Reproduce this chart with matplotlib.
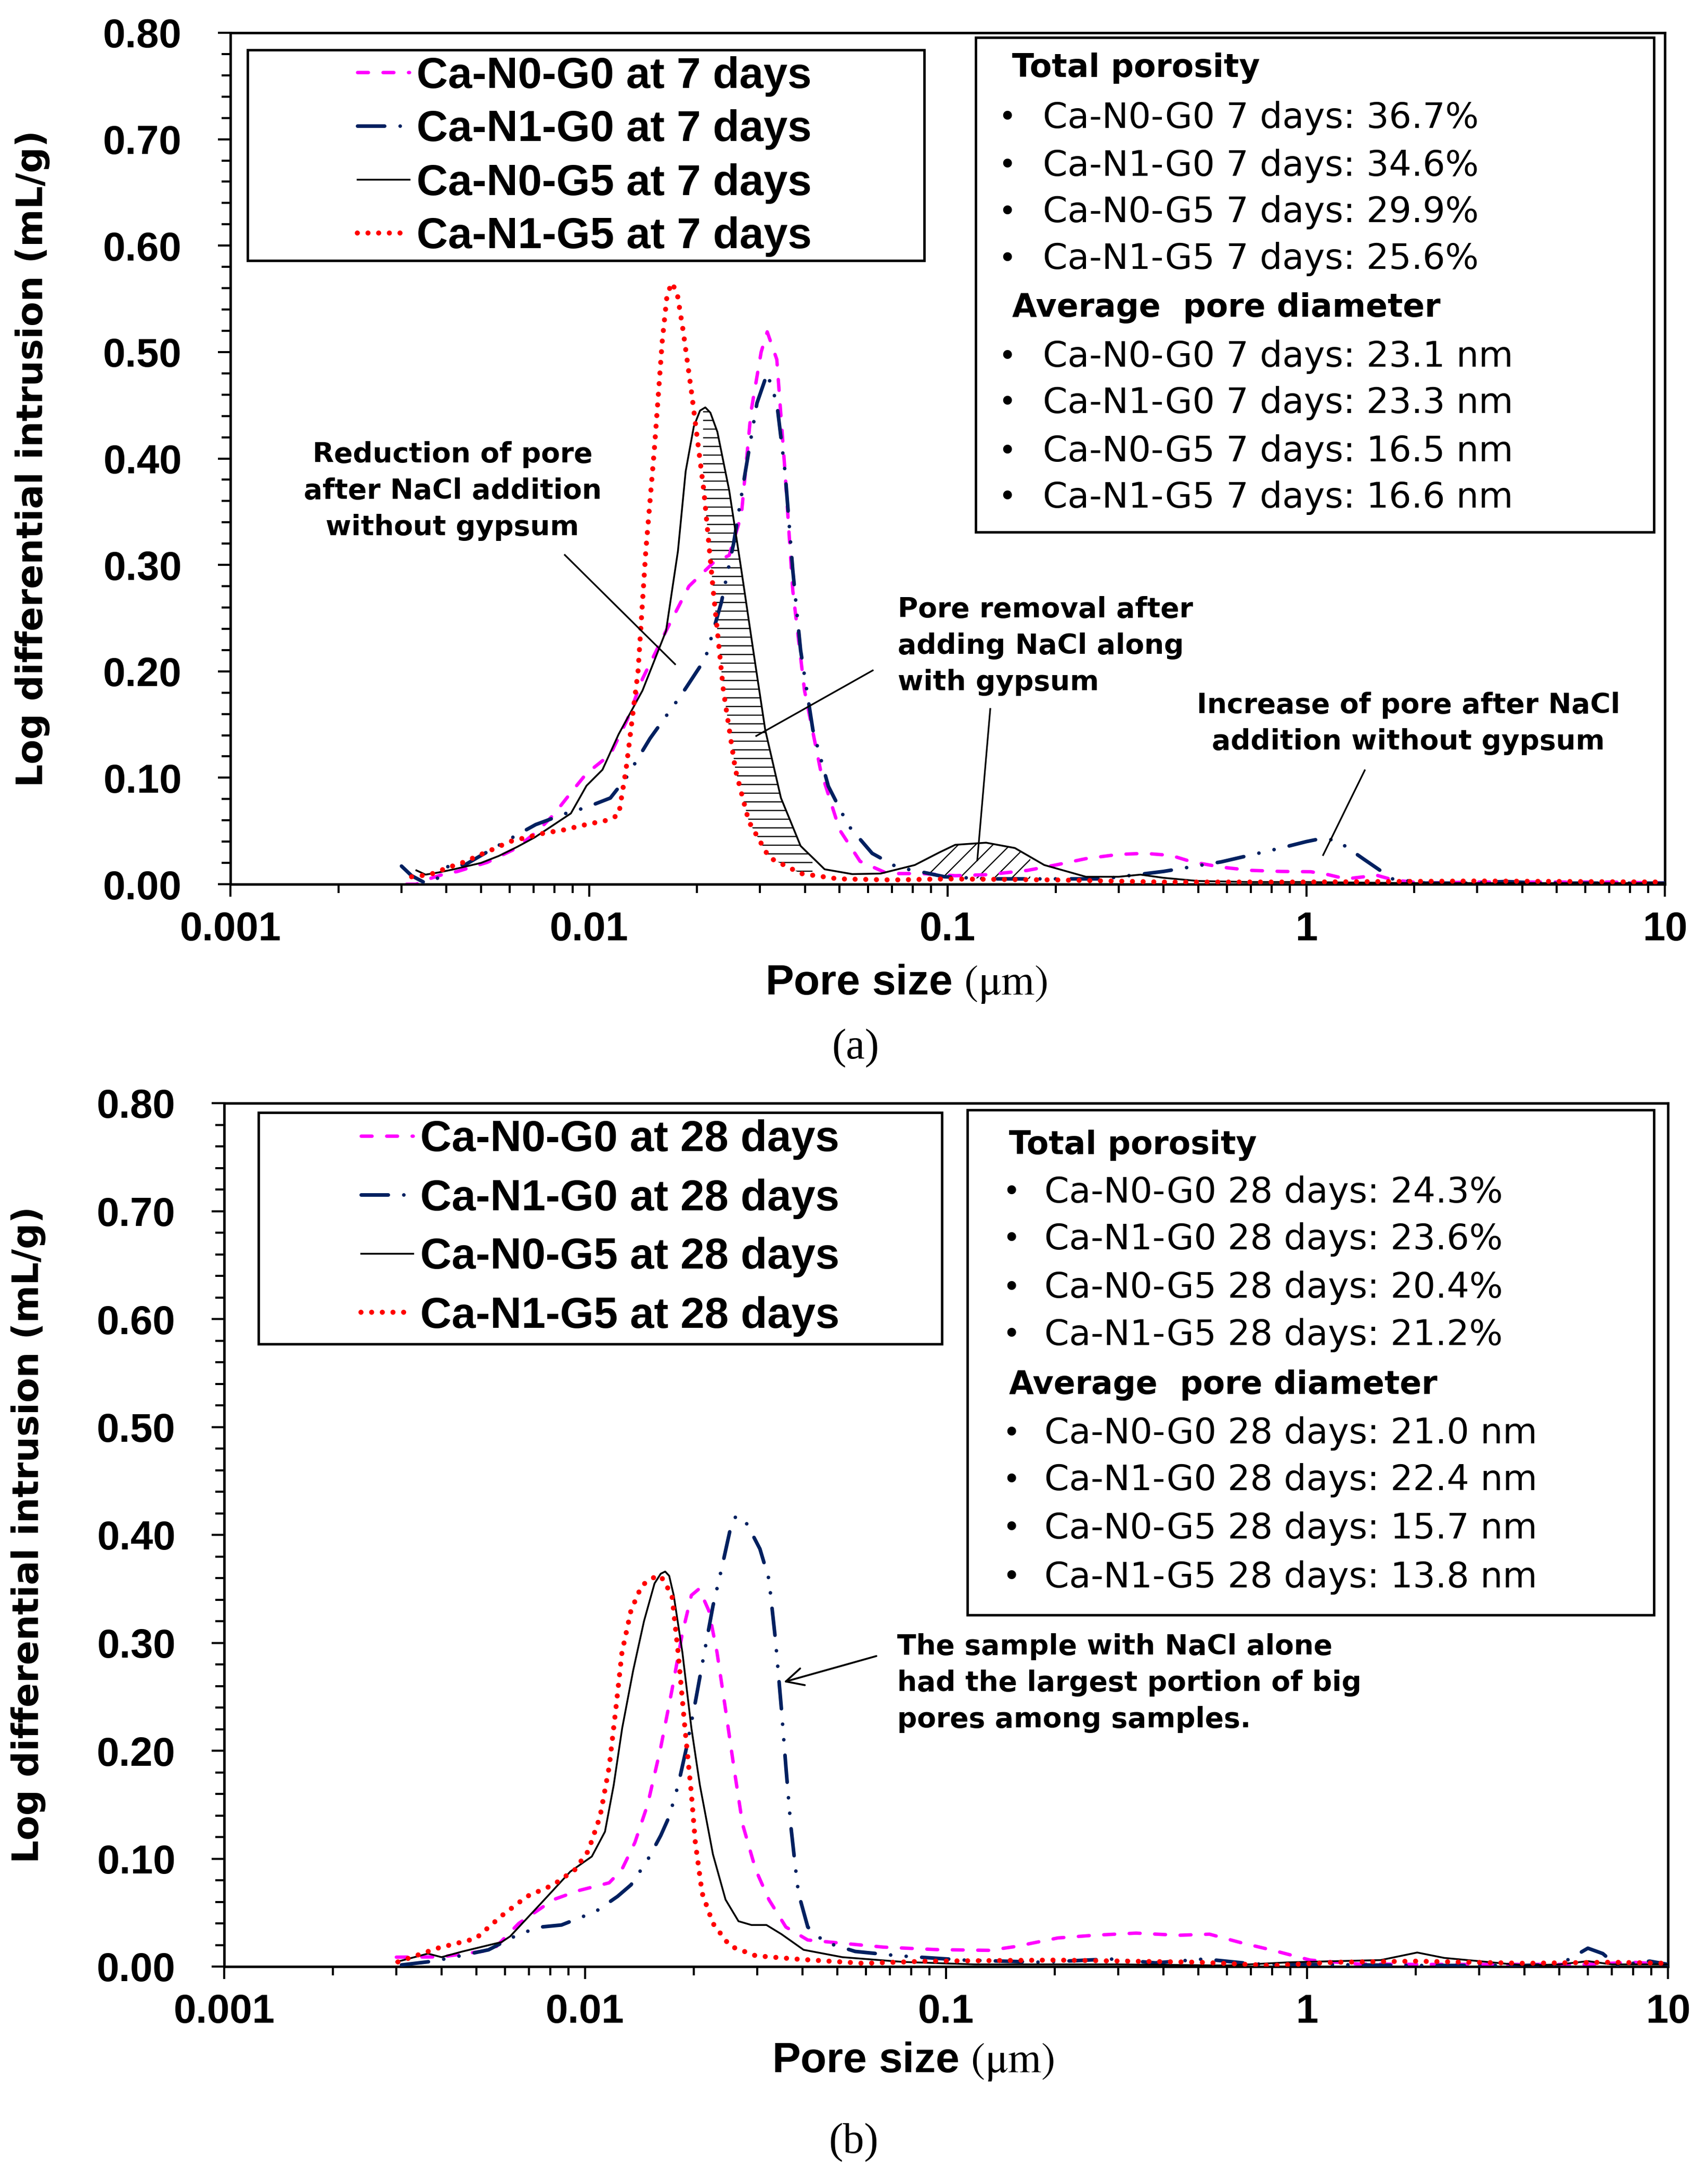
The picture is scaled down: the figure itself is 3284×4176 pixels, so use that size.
import numpy as np
import matplotlib
matplotlib.use("Agg")
import matplotlib.pyplot as plt
from matplotlib.ticker import MultipleLocator, LogLocator, FixedLocator, FixedFormatter, NullFormatter
from matplotlib.patches import Rectangle
from matplotlib.lines import Line2D

plt.rcParams['font.family'] = ['Liberation Sans', 'DejaVu Sans']
plt.rcParams['mathtext.fontset'] = 'stix'
plt.rcParams['hatch.linewidth'] = 1.6

# ---------------- data, panel (a): 7 days ----------------
a_n0g0_x = [0.0031, 0.0033, 0.0035, 0.0039, 0.0043, 0.0052, 0.0062, 0.0072, 0.0080, 0.0090, 0.00984, 0.01147,
            0.0128, 0.0141, 0.0164, 0.019, 0.0222, 0.0246, 0.0266, 0.0283, 0.0302, 0.0314, 0.0334, 0.0352,
            0.037, 0.0399, 0.0442, 0.050, 0.057, 0.068, 0.085, 0.105, 0.13, 0.167, 0.20, 0.243, 0.30, 0.355,
            0.42, 0.48, 0.58, 0.70, 0.85, 1.03, 1.15, 1.29, 1.45, 1.55, 1.75, 2.1, 3.0, 5.0, 7.0, 10.0]
a_n0g0_y = [0.0, 0.0, 0.004, 0.009, 0.012, 0.0205, 0.033, 0.05, 0.066, 0.088, 0.104, 0.122,
            0.155, 0.193, 0.238, 0.28, 0.302, 0.309, 0.347, 0.444, 0.50, 0.519, 0.493, 0.388,
            0.276, 0.182, 0.1075, 0.051, 0.0215, 0.010, 0.010, 0.008, 0.009, 0.013, 0.018, 0.024, 0.028, 0.029,
            0.027, 0.021, 0.016, 0.013, 0.012, 0.0117, 0.009, 0.005, 0.007, 0.009, 0.004, 0.001, 0.002, 0.002, 0.002, 0.001]

a_n1g0_x = [0.0030, 0.0032, 0.0035, 0.0038, 0.0041, 0.0045, 0.0050, 0.0062, 0.0071, 0.0087, 0.0098, 0.01147,
            0.0127, 0.0148, 0.0181, 0.0211, 0.0234, 0.0253, 0.0273, 0.0294, 0.0314, 0.0334, 0.0352, 0.037,
            0.0389, 0.0421, 0.0465, 0.0529, 0.0616, 0.0723, 0.0860, 0.098, 0.13, 0.186, 0.27, 0.40, 0.58,
            0.85, 1.0, 1.106, 1.22, 1.44, 1.74, 2.15, 2.8, 3.6, 4.5, 6.0, 10.0]
a_n1g0_y = [0.017, 0.008, 0.001, 0.006, 0.019, 0.018, 0.027, 0.045, 0.056, 0.067, 0.072, 0.081,
            0.10, 0.137, 0.178, 0.212, 0.265, 0.32, 0.388, 0.452, 0.48, 0.452, 0.388, 0.295,
            0.22, 0.145, 0.092, 0.055, 0.029, 0.016, 0.011, 0.007, 0.005, 0.005, 0.005, 0.012, 0.021,
            0.034, 0.040, 0.043, 0.041, 0.024, 0.005, 0.001, 0.001, 0.0025, 0.001, 0.001, 0.001]

a_n0g5_x = [0.0033, 0.0035, 0.0038, 0.0042, 0.0050, 0.0056, 0.0063, 0.00706, 0.0089, 0.00984, 0.0109, 0.0121,
            0.0141, 0.0164, 0.0177, 0.0186, 0.0196, 0.0204, 0.0211, 0.0218, 0.0228, 0.0246, 0.0266, 0.0287,
            0.031, 0.0343, 0.0389, 0.0454, 0.0542, 0.0650, 0.081, 0.095, 0.105, 0.128, 0.154, 0.186, 0.243,
            0.30, 0.345, 0.40, 0.50, 0.70, 1.0, 2.0, 5.0, 10.0]
a_n0g5_y = [0.013, 0.009, 0.011, 0.014, 0.020, 0.0265, 0.035, 0.044, 0.0665, 0.0925, 0.1075, 0.141,
            0.182, 0.238, 0.313, 0.388, 0.43, 0.445, 0.448, 0.443, 0.425, 0.37, 0.295, 0.22,
            0.145, 0.081, 0.036, 0.014, 0.0095, 0.010, 0.018, 0.030, 0.037, 0.039, 0.034, 0.018, 0.007,
            0.007, 0.009, 0.006, 0.003, 0.002, 0.002, 0.001, 0.001, 0.001]

a_n1g5_x = [0.0032, 0.0036, 0.0040, 0.0045, 0.0050, 0.0055, 0.0060, 0.0067, 0.0075, 0.0085, 0.0098, 0.0112,
            0.0121, 0.01268, 0.0137, 0.0144, 0.0152, 0.0160, 0.0165, 0.0170, 0.0176, 0.0183, 0.0193, 0.0209,
            0.0222, 0.0237, 0.0256, 0.0279, 0.0318, 0.039, 0.0495, 0.07, 0.1, 0.2, 0.4, 1.0, 3.0, 10.0]
a_n1g5_y = [0.007, 0.009, 0.015, 0.021, 0.028, 0.034, 0.040, 0.044, 0.048, 0.051, 0.056, 0.060,
            0.065, 0.1075, 0.20, 0.313, 0.407, 0.51, 0.553, 0.565, 0.556, 0.52, 0.463, 0.37,
            0.276, 0.182, 0.1075, 0.059, 0.025, 0.010, 0.005, 0.004, 0.005, 0.004, 0.002, 0.002, 0.003, 0.002]

# ---------------- data, panel (b): 28 days ----------------
b_n0g0_x = [0.0030, 0.0040, 0.00556, 0.00655, 0.00817, 0.0096, 0.01166, 0.01263, 0.01374, 0.0149, 0.0162,
            0.0174, 0.0186, 0.0197, 0.0207, 0.022, 0.0232, 0.0245, 0.0259, 0.0273, 0.0297, 0.0323, 0.036,
            0.0414, 0.050, 0.067, 0.094, 0.132, 0.156, 0.204, 0.257, 0.336, 0.44, 0.537, 0.658, 0.805,
            1.02, 1.39, 2.0, 4.0, 6.0, 8.0, 10.0]
b_n0g0_y = [0.0087, 0.009, 0.0155, 0.040, 0.062, 0.0704, 0.0776, 0.0896, 0.115, 0.15, 0.203,
            0.256, 0.309, 0.344, 0.35, 0.33, 0.291, 0.238, 0.182, 0.132, 0.0896, 0.062, 0.0366,
            0.0246, 0.022, 0.018, 0.0157, 0.015, 0.0186, 0.0265, 0.029, 0.031, 0.029, 0.030, 0.022, 0.015,
            0.006, 0.0024, 0.002, 0.002, 0.002, 0.004, 0.002]

b_n1g0_x = [0.0031, 0.0038, 0.00433, 0.0054, 0.00655, 0.00752, 0.0086, 0.0107, 0.0123, 0.0134, 0.0149,
            0.0162, 0.0171, 0.0181, 0.0191, 0.0202, 0.0214, 0.0226, 0.0239, 0.0252, 0.0262, 0.0281, 0.0305,
            0.0323, 0.0337, 0.035, 0.036, 0.0371, 0.0381, 0.039, 0.0414, 0.0461, 0.056, 0.0737, 0.112,
            0.184, 0.285, 0.38, 0.52, 0.71, 1.0, 2.0, 4.0, 5.0, 5.4, 6.0, 6.6, 7.2, 8.9, 10.0]
b_n1g0_y = [0.0015, 0.005, 0.0087, 0.0155, 0.030, 0.0366, 0.0385, 0.051, 0.065, 0.0757, 0.0988,
            0.1214, 0.139, 0.168, 0.203, 0.245, 0.291, 0.334, 0.369, 0.404, 0.418, 0.41, 0.387,
            0.359, 0.302, 0.238, 0.185, 0.132, 0.0969, 0.068, 0.0366, 0.0227, 0.014, 0.010, 0.006,
            0.004, 0.007, 0.0034, 0.007, 0.0024, 0.002, 0.001, 0.001, 0.002, 0.008, 0.017, 0.012, 0.001, 0.005, 0.002]

b_n0g5_x = [0.0030, 0.00367, 0.0040, 0.00458, 0.00587, 0.0062, 0.00752, 0.0091, 0.01044, 0.01135, 0.012,
            0.01267, 0.01358, 0.01456, 0.01557, 0.0162, 0.01667, 0.0171, 0.0176, 0.0186, 0.0197, 0.0208,
            0.0226, 0.0245, 0.0266, 0.0289, 0.0318, 0.035, 0.0403, 0.0516, 0.076, 0.12, 0.3, 0.6, 0.9, 1.2,
            1.6, 2.02, 2.4, 3.0, 4.0, 5.0, 6.0, 7.0, 10.0]
b_n0g5_y = [0.0043, 0.012, 0.0087, 0.014, 0.0227, 0.028, 0.058, 0.088, 0.102, 0.125, 0.168,
            0.221, 0.274, 0.32, 0.355, 0.364, 0.366, 0.362, 0.344, 0.291, 0.221, 0.168,
            0.104, 0.062, 0.042, 0.0385, 0.0385, 0.030, 0.0155, 0.0087, 0.0043, 0.002, 0.002, 0.001, 0.004, 0.005,
            0.006, 0.013, 0.008, 0.005, 0.001, 0.002, 0.005, 0.002, 0.002]

b_n1g5_x = [0.00303, 0.0039, 0.00498, 0.00587, 0.0069, 0.00816, 0.00936, 0.0102, 0.011, 0.01166, 0.01216,
            0.01265, 0.0134, 0.01435, 0.01535, 0.0162, 0.0174, 0.0181, 0.0189, 0.0197, 0.0202, 0.0211,
            0.0226, 0.0252, 0.0297, 0.039, 0.059, 0.089, 0.2, 0.5, 0.8, 1.2, 2.0, 4.0, 7.0, 10.0]
b_n1g5_y = [0.0043, 0.017, 0.026, 0.047, 0.065, 0.0757, 0.0896, 0.107, 0.139, 0.185, 0.238,
            0.291, 0.33, 0.353, 0.36, 0.362, 0.344, 0.291, 0.221, 0.16, 0.115, 0.068,
            0.040, 0.019, 0.010, 0.0068, 0.003, 0.005, 0.006, 0.004, 0.001, 0.004, 0.005, 0.003, 0.004, 0.003]

samples = ['Ca-N0-G0', 'Ca-N1-G0', 'Ca-N0-G5', 'Ca-N1-G5']
porosity_7 = [36.7, 34.6, 29.9, 25.6]
diameter_7 = [23.1, 23.3, 16.5, 16.6]
porosity_28 = [24.3, 23.6, 20.4, 21.2]
diameter_28 = [21.0, 22.4, 15.7, 13.8]

x_ticks = [0.001, 0.01, 0.1, 1, 10]
x_tick_labels = ['0.001', '0.01', '0.1', '1', '10']

# ---------------- figure ----------------
W, H = 3284, 4176
fig = plt.figure(figsize=(W / 100, H / 100), dpi=100)


def fx(px):
    return px / W


def fy(py):
    return 1 - py / H


styles = [
    dict(color='#FF00FF', lw=4.7, dashes=(3.2, 4.3), dash_capstyle='round', zorder=2),
    dict(color='#002060', lw=5.0, dashes=(7.5, 4.3, 0.01, 4.3, 0.01, 4.3), dash_capstyle='round', zorder=3),
    dict(color='black', lw=2.5, zorder=4),
    dict(color='#FF0000', lw=7.0, dashes=(0.01, 2.1), dash_capstyle='round', zorder=5),
]

tick_font = dict(family='Liberation Sans', weight='bold', size=56)


def style_axes(ax):
    ax.set_xscale('log')
    ax.set_xlim(0.001, 10)
    ax.set_ylim(0, 0.8)
    ax.xaxis.set_major_locator(FixedLocator(x_ticks))
    ax.xaxis.set_major_formatter(FixedFormatter(x_tick_labels))
    ax.xaxis.set_minor_locator(LogLocator(base=10, subs=np.arange(2, 10)))
    ax.xaxis.set_minor_formatter(NullFormatter())
    ax.yaxis.set_major_locator(MultipleLocator(0.1))
    ax.yaxis.set_minor_locator(MultipleLocator(0.02))
    ax.yaxis.set_major_formatter(plt.FuncFormatter(lambda v, p: '%.2f' % v))
    for s in ax.spines.values():
        s.set_linewidth(3.4)
    ax.tick_params(which='both', direction='out', top=False, right=False, width=2.9)
    ax.tick_params(which='major', length=17)
    ax.tick_params(which='minor', length=12.5)
    ax.tick_params(axis='y', which='major', pad=50)
    ax.tick_params(axis='x', which='major', pad=20)
    for lab in ax.get_xticklabels() + ax.get_yticklabels():
        lab.set_fontfamily(tick_font['family'])
        lab.set_fontweight(tick_font['weight'])
        lab.set_fontsize(tick_font['size'])
    ax.set_ylabel('Log differential intrusion (mL/g)', family='DejaVu Sans', weight='bold', fontsize=50)
    ax.set_xlabel(r'Pore size $\mathrm{(\mu m)}$', weight='bold', fontsize=59)


def add_box(x0, y0, x1, y1):
    fig.add_artist(Rectangle((fx(x0), fy(y1)), fx(x1) - fx(x0), fy(y0) - fy(y1),
                             transform=fig.transFigure, fill=False, lw=3.4, ec='black', zorder=10))


def add_info(days, porosity, diameter, x_bul, x_txt, x_head, y_rows):
    heads = {0: 'Total porosity', 5: 'Average  pore diameter'}
    k = 0
    vals = ['%.1f%%' % v for v in porosity] + ['%.1f nm' % v for v in diameter]
    for i, y in enumerate(y_rows):
        if i in heads:
            fig.text(fx(x_head), fy(y), heads[i], family='DejaVu Sans', weight='bold', fontsize=44.5,
                     va='center', ha='left')
        else:
            fig.text(fx(x_bul), fy(y), '\u2022', family='DejaVu Sans', fontsize=42, va='center', ha='center')
            fig.text(fx(x_txt), fy(y), '%s %d days: %s' % (samples[k % 4], days, vals[k]),
                     family='DejaVu Sans', fontsize=49, va='center', ha='left')
            k += 1


def leader(x0, y0, x1, y1):
    fig.add_artist(Line2D([fx(x0), fx(x1)], [fy(y0), fy(y1)], transform=fig.transFigure,
                          color='black', lw=2.3, zorder=11))


ann_font = dict(family='DejaVu Sans', weight='bold', fontsize=38.5, linespacing=1.45)

# ---------------- panel (a) ----------------
ax_a = fig.add_axes([fx(443), fy(1700), (3201 - 443) / W, (1700 - 63) / H])
series_a = [(a_n0g0_x, a_n0g0_y), (a_n1g0_x, a_n1g0_y), (a_n0g5_x, a_n0g5_y), (a_n1g5_x, a_n1g5_y)]
lines_a = []
for (xs, ys), st, name in zip(series_a, styles, samples):
    ln, = ax_a.plot(xs, ys, label=name + ' at 7 days', **st)
    lines_a.append(ln)
style_axes(ax_a)
ax_a.yaxis.set_label_coords(-0.1258, 0.5)
ax_a.xaxis.set_label_coords(0.471, -0.117)
ax_a.xaxis.label.set_va('center')


# hatched areas: between two curves on the union of their sample points
def hatch_between(ax, xa, ya, xb, yb, lo, hi, pattern):
    xu = np.array(sorted(set([v for v in xa + xb if lo <= v <= hi] + [lo, hi])))
    top = np.interp(np.log10(xu), np.log10(xa), ya)
    bot = np.interp(np.log10(xu), np.log10(xb), yb)
    ax.fill_between(xu, bot, top, facecolor='none', edgecolor='black', hatch=pattern, lw=0, zorder=1)


hatch_between(ax_a, a_n0g5_x, a_n0g5_y, a_n1g5_x, a_n1g5_y, 0.0208, 0.042, '-')
hatch_between(ax_a, a_n0g5_x, a_n0g5_y, a_n1g0_x, a_n1g0_y, 0.088, 0.17, '/')

leg_font = dict(family='Liberation Sans', weight='bold', size=60)
ax_a.legend(handles=lines_a, loc='center', bbox_to_anchor=(fx(1124), fy(301)), bbox_transform=fig.transFigure,
            frameon=False, prop=leg_font, handlelength=1.2, handletextpad=0.17, labelspacing=0.3,
            borderpad=0, borderaxespad=0)
add_box(476, 96, 1777, 501)

add_box(1876, 72, 3180, 1023)
add_info(7, porosity_7, diameter_7, 1936, 2005, 1946,
         [131, 227, 319, 408, 498, 592, 686, 775, 868, 957])

fig.text(fx(870), fy(944), 'Reduction of pore\nafter NaCl addition\nwithout gypsum', ha='center', va='center',
         **ann_font)
leader(1086, 1067, 1298, 1277)
fig.text(fx(1726), fy(1242), 'Pore removal after\nadding NaCl along\nwith gypsum', ha='left', va='center',
         **ann_font)
leader(1678, 1289, 1454, 1415)
leader(1904, 1363, 1879, 1654)
fig.text(fx(2708), fy(1391), 'Increase of pore after NaCl\naddition without gypsum', ha='center', va='center',
         **ann_font)
leader(2624, 1481, 2544, 1644)

fig.text(fx(1645), fy(2016), '(a)', family='Liberation Serif', fontsize=59, ha='center', va='center')

# ---------------- panel (b) ----------------
ax_b = fig.add_axes([fx(431), fy(3781), (3207 - 431) / W, (3781 - 2121) / H])
series_b = [(b_n0g0_x, b_n0g0_y), (b_n1g0_x, b_n1g0_y), (b_n0g5_x, b_n0g5_y), (b_n1g5_x, b_n1g5_y)]
lines_b = []
for (xs, ys), st, name in zip(series_b, styles, samples):
    ln, = ax_b.plot(xs, ys, label=name + ' at 28 days', **st)
    lines_b.append(ln)
style_axes(ax_b)
ax_b.yaxis.set_label_coords(-0.1236, 0.5)
ax_b.xaxis.set_label_coords(0.477, -0.11)
ax_b.xaxis.label.set_va('center')

ax_b.legend(handles=lines_b, loc='center', bbox_to_anchor=(fx(1154), fy(2361)), bbox_transform=fig.transFigure,
            frameon=False, prop=leg_font, handlelength=1.2, handletextpad=0.17, labelspacing=0.42,
            borderpad=0, borderaxespad=0)
add_box(497, 2139, 1811, 2584)

add_box(1860, 2134, 3180, 3105)
add_info(28, porosity_28, diameter_28, 1944, 2008, 1940,
         [2202, 2293, 2383, 2476, 2567, 2663, 2756, 2846, 2939, 3033])

fig.text(fx(1725), fy(3236), 'The sample with NaCl alone\nhad the largest portion of big\npores among samples.',
         ha='left', va='center', **ann_font)
ax_b.annotate('', xy=(fx(1507), fy(3234)), xycoords='figure fraction',
              xytext=(fx(1685), fy(3184)), textcoords='figure fraction',
              arrowprops=dict(arrowstyle='->,head_length=0.6,head_width=0.3', lw=2.6, color='black',
                              mutation_scale=40, shrinkA=0, shrinkB=0))

fig.text(fx(1641), fy(4120), '(b)', family='Liberation Serif', fontsize=59, ha='center', va='center')

fig.savefig('out.png', dpi=100)
